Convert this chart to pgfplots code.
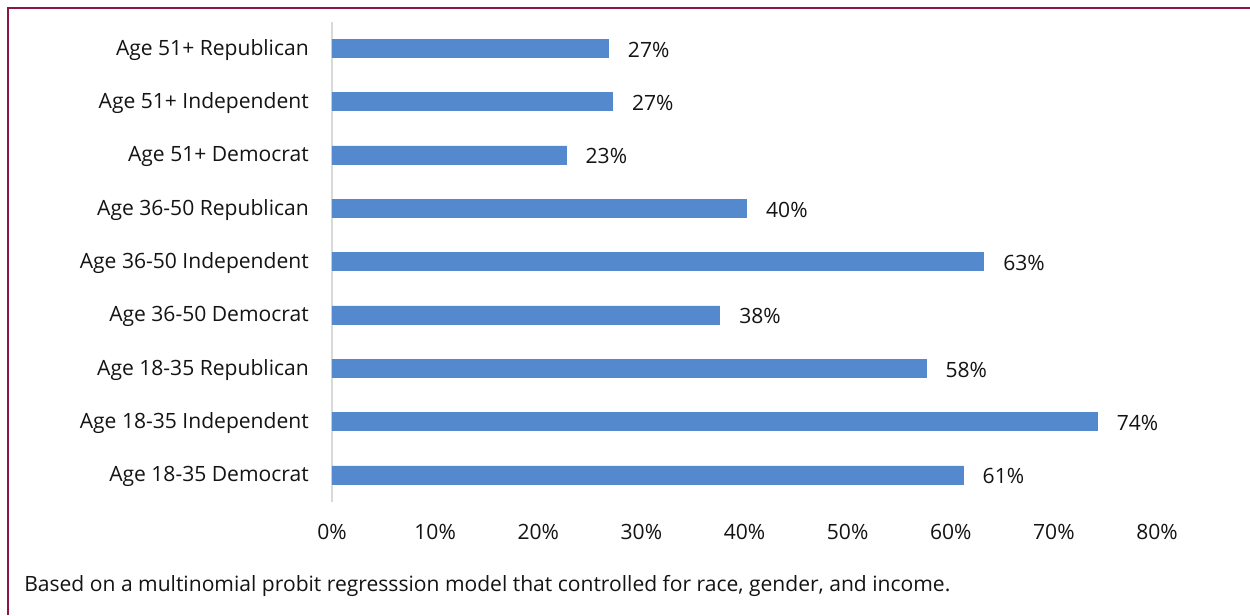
\documentclass[border=0pt]{standalone}
\usepackage{fontspec}
\setmainfont{Open Sans}
\usepackage{pgfplots}
\pgfplotsset{compat=1.18}
\definecolor{barblue}{RGB}{85,137,206}
\definecolor{frame}{RGB}{140,20,70}
\definecolor{txt}{RGB}{20,20,20}
\newcommand{\lblfont}{\fontsize{15.8}{19}\selectfont}
\begin{document}
\begin{tikzpicture}
\useasboundingbox (0,0) rectangle (937.5pt,461.25pt);
\fill[white] (0,0) rectangle (937.5pt,461.25pt);
\draw[frame, line width=2.2pt] (6pt,0pt) -- (6pt,455.25pt) -- (940pt,455.25pt);
\begin{axis}[
  at={(249pt,85.125pt)}, anchor=south west,
  scale only axis, width=618.75pt, height=360pt,
  xmin=0, xmax=80, ymin=-0.5, ymax=8.5,
  xbar, bar width=13.5pt,
  axis y line*=left, axis x line*=bottom,
  x axis line style={draw=none},
  y axis line style={draw=black!15, line width=0.8pt},
  major tick length=0pt,
  xtick={0,10,...,80},
  xticklabel={\pgfmathprintnumber{\tick}\%},
  /pgf/number format/assume math mode=true,
  ytick={0,...,8},
  yticklabels={Age 18-35 Democrat, Age 18-35 Independent, Age 18-35 Republican, Age 36-50 Democrat, Age 36-50 Independent, Age 36-50 Republican, Age 51+ Democrat, Age 51+ Independent, Age 51+ Republican},
  tick label style={font=\lblfont, text=txt, inner sep=0pt},
  xticklabel style={anchor=center, yshift=-23pt},
  yticklabel style={anchor=east, xshift=-17.25pt, yshift=-1.5pt},
  nodes near coords={\pgfmathprintnumber[fixed,precision=0]{\pgfplotspointmeta}\%},
  every node near coord/.append style={anchor=west, inner sep=0pt, xshift=14.5pt, yshift=-1.2pt, font=\lblfont, text=txt},
  clip=false,
]
\addplot[fill=barblue, draw=barblue] coordinates {
  (61.2,0) (74.2,1) (57.6,2) (37.6,3) (63.2,4) (40.2,5) (22.7,6) (27.2,7) (26.8,8)
};
\end{axis}
\node[anchor=west, inner sep=0pt, font=\lblfont, text=txt] at (18pt,22pt) {Based on a multinomial probit regresssion model that controlled for race, gender, and income.};
\end{tikzpicture}
\end{document}
